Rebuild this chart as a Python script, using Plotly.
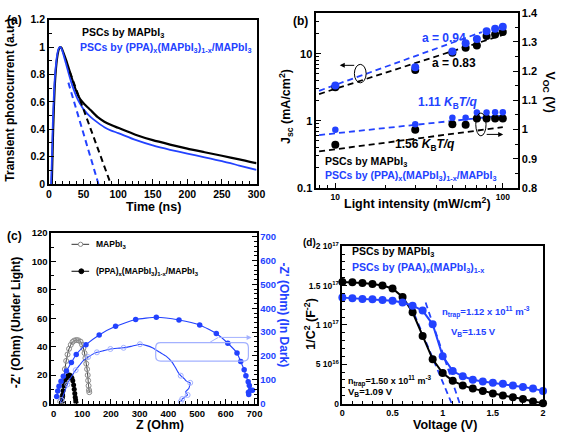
import plotly.graph_objects as go

W, H = 567, 440
BLUE = '#2342FF'
LBLUE = '#a3b1ff'

# ---------------- panel (a): transient photocurrent ----------------
t_black = [4, 5, 6, 8, 10, 12, 14, 16, 18, 20, 25, 30, 35, 40, 45, 50, 60, 70, 80, 90, 100,
           125, 150, 175, 200, 225, 250, 275, 300]
i_black = [0.0, 0.2, 0.4, 0.68, 0.84, 0.93, 0.98, 1.0, 0.995, 0.97, 0.9, 0.82, 0.74, 0.67, 0.62,
           0.59, 0.54, 0.49, 0.455, 0.43, 0.41, 0.36, 0.32, 0.288, 0.258, 0.232, 0.206, 0.18, 0.151]
t_blue = [3, 4, 5, 6, 8, 10, 12, 14, 16, 18, 20, 25, 30, 35, 40, 45, 50, 60, 70, 80, 90, 100,
          125, 150, 175, 200, 225, 250, 275, 300]
i_blue = [0.0, 0.15, 0.35, 0.52, 0.74, 0.87, 0.95, 0.99, 1.0, 0.99, 0.96, 0.87, 0.78, 0.70, 0.635,
          0.585, 0.545, 0.49, 0.45, 0.415, 0.39, 0.372, 0.322, 0.282, 0.25, 0.222, 0.195, 0.167,
          0.135, 0.103]
fit_a_black_t = [30, 89.3]
fit_a_black_i = [0.82, 0.0]
fit_a_blue_t = [28, 71.5]
fit_a_blue_i = [0.74, 0.0]

# ---------------- panel (b): light intensity dependence ----------------
light = [10, 30, 50, 60, 70, 80, 90, 100]
jsc_black = [3.15, 5.7, 10.3, 12.3, 13.2, 18.4, 19.3, 21.0]
jsc_blue = [3.35, 6.3, 10.8, 14.3, 16.5, 21.5, 23.6, 25.2]
voc_black = [0.948, 0.999, 1.018, 1.016, 1.038, 1.038, 1.038, 1.038]
voc_blue = [0.999, 1.018, 1.040, 1.040, 1.058, 1.058, 1.059, 1.059]
fit_jsc_black_x = [8, 100]
fit_jsc_black_y = [2.5, 19.0]
fit_jsc_blue_x = [8, 75]
fit_jsc_blue_y = [2.8, 21.0]
fit_voc_black_x = [8, 100]
fit_voc_black_y = [0.925, 1.008]
fit_voc_blue_x = [8, 100]
fit_voc_blue_y = [0.981, 1.048]

# ---------------- panel (c): Nyquist plots ----------------
z_light_mapi = [23, 30.6, 34, 39.5, 44, 48.7, 54, 60, 66, 72, 79.3, 86, 94, 99, 104, 108, 111,
                114, 116.8, 119, 120.5, 122, 123.5, 124.5]
zz_light_mapi = [1.5, 5, 12.8, 24.2, 30, 34.5, 38.5, 41.3, 43.3, 44.3, 44.7, 44.5, 43.6, 41.5,
                 39, 35.5, 32, 28, 24.2, 20, 16.2, 12.5, 9.5, 8]
z_light_ppa = [30, 30.6, 31.5, 33, 36, 40, 45, 50, 55, 60, 64, 67, 70, 72, 74, 75.5, 77, 78]
zz_light_ppa = [1, 4, 6, 9, 12.5, 15.5, 18, 19.5, 20, 19.5, 18, 16, 13, 10, 7, 4.5, 2.5, 1]
z_dark_mapi = [22, 28, 34, 40, 48, 57, 67, 77, 90, 102, 120, 151, 175, 198, 222, 244, 270, 301,
               325, 346, 370, 392, 414, 425, 434, 443, 455, 462, 470, 476, 471, 460, 467, 458,
               448, 443]
zz_dark_mapi = [2, 15, 35, 55, 80, 103, 122, 140, 160, 178, 195, 215, 222, 229, 232, 234, 240,
                249, 243, 233, 215, 199, 172, 150, 131, 117, 105, 95, 90, 87, 63, 49, 36, 28,
                19, 8]
z_dark_mapi_marks = [28, 48, 77, 120, 151, 198, 244, 301, 443, 476, 467, 448, 443]
zz_dark_mapi_marks = [15, 80, 140, 195, 215, 229, 234, 249, 117, 87, 36, 19, 8]
z_dark_ppa = [11, 14.6, 19, 26, 34, 45, 62, 79, 113, 159, 216, 286, 358, 437, 509, 567, 607,
              639, 652, 664, 670, 678, 682, 686, 693, 679, 680]
zz_dark_ppa = [30, 53, 73, 94, 115, 137, 172, 206, 247, 288, 324, 353, 362, 351, 330, 294, 253,
               212, 176, 142, 117, 92, 76, 57, 56, 47, 38]

# ---------------- panel (d): Mott-Schottky ----------------
volt = [0.0, 0.1, 0.2, 0.3, 0.4, 0.5, 0.6, 0.7, 0.8, 0.9, 1.0, 1.1, 1.2, 1.3, 1.4, 1.5, 1.6,
        1.7, 1.8, 1.9, 2.0]
ms_black = [1.545e17, 1.541e17, 1.533e17, 1.52e17, 1.50e17, 1.463e17, 1.355e17, 1.161e17,
            0.859e17, 0.562e17, 0.388e17, 0.289e17, 0.231e17, 0.19e17, 0.161e17, 0.128e17,
            0.103e17, 0.079e17, 0.058e17, 0.025e17, 0.004e17]
ms_blue = [1.347e17, 1.339e17, 1.330e17, 1.326e17, 1.318e17, 1.306e17, 1.285e17, 1.244e17,
           1.182e17, 1.008e17, 0.603e17, 0.413e17, 0.347e17, 0.302e17, 0.281e17, 0.264e17,
           0.252e17, 0.231e17, 0.211e17, 0.19e17, 0.161e17]
fit_d_black_v = [0.68, 1.09]
fit_d_black_y = [1.25e17, 0.0]
fit_d_blue_v = [0.83, 1.17]
fit_d_blue_y = [1.285e17, 0.0]
d_ticks = [0, 5e16, 1e17, 1.5e17, 2e17]
d_ticktext = ['0', '5 10<sup>16</sup>', '1 10<sup>17</sup>', '1.5 10<sup>17</sup>', '2 10<sup>17</sup>']


def fx(x):
    return x / W


def fy(y):
    return 1 - y / H


fig = go.Figure()

# panel a traces
fig.add_trace(go.Scatter(x=t_black, y=i_black, mode='lines', xaxis='x', yaxis='y',
                         line=dict(color='black', width=2.2, shape='spline', smoothing=0.6)))
fig.add_trace(go.Scatter(x=t_blue, y=i_blue, mode='lines', xaxis='x', yaxis='y',
                         line=dict(color=BLUE, width=1.8, shape='spline', smoothing=0.6)))
fig.add_trace(go.Scatter(x=fit_a_black_t, y=fit_a_black_i, mode='lines', xaxis='x', yaxis='y',
                         line=dict(color='black', width=2, dash='6px,4px')))
fig.add_trace(go.Scatter(x=fit_a_blue_t, y=fit_a_blue_i, mode='lines', xaxis='x', yaxis='y',
                         line=dict(color=BLUE, width=2, dash='6px,4px')))

# panel b traces
fig.add_trace(go.Scatter(x=fit_jsc_black_x, y=fit_jsc_black_y, mode='lines', xaxis='x2', yaxis='y2',
                         line=dict(color='black', width=1.8, dash='6px,4px')))
fig.add_trace(go.Scatter(x=fit_jsc_blue_x, y=fit_jsc_blue_y, mode='lines', xaxis='x2', yaxis='y2',
                         line=dict(color=BLUE, width=1.8, dash='6px,4px')))
fig.add_trace(go.Scatter(x=light, y=jsc_black, mode='markers', xaxis='x2', yaxis='y2',
                         marker=dict(color='black', size=8)))
fig.add_trace(go.Scatter(x=light, y=jsc_blue, mode='markers', xaxis='x2', yaxis='y2',
                         marker=dict(color=BLUE, size=8)))
fig.add_trace(go.Scatter(x=fit_voc_black_x, y=fit_voc_black_y, mode='lines', xaxis='x2', yaxis='y3',
                         line=dict(color='black', width=1.8, dash='6px,4px')))
fig.add_trace(go.Scatter(x=fit_voc_blue_x, y=fit_voc_blue_y, mode='lines', xaxis='x2', yaxis='y3',
                         line=dict(color=BLUE, width=1.8, dash='6px,4px')))
fig.add_trace(go.Scatter(x=light, y=voc_black, mode='markers', xaxis='x2', yaxis='y3',
                         marker=dict(color='black', size=8)))
fig.add_trace(go.Scatter(x=light, y=voc_blue, mode='markers', xaxis='x2', yaxis='y3',
                         marker=dict(color=BLUE, size=6.5)))

# panel c traces
fig.add_trace(go.Scatter(x=z_dark_mapi, y=zz_dark_mapi, mode='lines', xaxis='x3', yaxis='y5',
                         line=dict(color=BLUE, width=1.1, shape='spline', smoothing=0.4)))
fig.add_trace(go.Scatter(x=z_dark_mapi_marks, y=zz_dark_mapi_marks, mode='markers', xaxis='x3',
                         yaxis='y5',
                         marker=dict(symbol='circle-open', size=5, color=LBLUE, line=dict(width=1))))
fig.add_trace(go.Scatter(x=z_dark_ppa, y=zz_dark_ppa, mode='lines+markers', xaxis='x3', yaxis='y5',
                         line=dict(color=BLUE, width=1.1, shape='spline', smoothing=0.5),
                         marker=dict(symbol='circle', size=5.5, color=BLUE), cliponaxis=False))
fig.add_trace(go.Scatter(x=z_light_mapi, y=zz_light_mapi, mode='lines+markers', xaxis='x3', yaxis='y4',
                         line=dict(color='#333333', width=1, shape='spline', smoothing=0.5),
                         marker=dict(symbol='circle-open', size=5, color='#8a8a8a', line=dict(width=1))))
fig.add_trace(go.Scatter(x=z_light_ppa, y=zz_light_ppa, mode='lines+markers', xaxis='x3', yaxis='y4',
                         line=dict(color='black', width=1, shape='spline', smoothing=0.5),
                         marker=dict(symbol='circle', size=5, color='black')))

# panel d traces
fig.add_trace(go.Scatter(x=fit_d_black_v, y=fit_d_black_y, mode='lines', xaxis='x4', yaxis='y6',
                         line=dict(color=BLUE, width=1.8, dash='6px,4px')))
fig.add_trace(go.Scatter(x=fit_d_blue_v, y=fit_d_blue_y, mode='lines', xaxis='x4', yaxis='y6',
                         line=dict(color=BLUE, width=1.8, dash='6px,4px')))
fig.add_trace(go.Scatter(x=volt, y=ms_black, mode='lines+markers', xaxis='x4', yaxis='y6',
                         line=dict(color='black', width=2), marker=dict(color='black', size=8),
                         cliponaxis=False))
fig.add_trace(go.Scatter(x=volt, y=ms_blue, mode='lines+markers', xaxis='x4', yaxis='y6',
                         line=dict(color=BLUE, width=2), marker=dict(color=BLUE, size=8),
                         cliponaxis=False))


def axis_style(size, color='black'):
    return dict(showline=True, linecolor='black', linewidth=1.5, ticks='inside', ticklen=5,
                tickwidth=1.2, tickcolor='black', showgrid=False, zeroline=False,
                tickfont=dict(size=size, color=color))


def minor(**kw):
    d = dict(ticks='inside', ticklen=3, tickwidth=1, tickcolor='black', showgrid=False)
    d.update(kw)
    return d


fig.update_layout(
    width=W, height=H, margin=dict(l=0, r=0, t=0, b=0),
    paper_bgcolor='white', plot_bgcolor='rgba(0,0,0,0)', showlegend=False,
    font=dict(family='Liberation Sans, Arial, sans-serif', size=11, color='black', weight='bold'),
    xaxis=dict(domain=[fx(47), fx(259)], range=[0, 300], anchor='y', dtick=50, mirror=True,
               minor=minor(dtick=10), **axis_style(10.5)),
    yaxis=dict(domain=[fy(183), fy(14)], range=[0, 1.2], anchor='x', dtick=0.2, mirror=True,
               minor=minor(dtick=0.1), **axis_style(10.5)),
    xaxis2=dict(domain=[fx(320), fx(526)], type='log', range=[0.886, 2.09], anchor='y2',
                tickmode='array', tickvals=[10, 100], mirror=True,
                minor=minor(tickmode='array', tickvals=[8, 9, 20, 30, 40, 50, 60, 70, 80, 90]),
                **axis_style(8.5)),
    yaxis2=dict(domain=[fy(187), fy(7)], type='log', range=[-1, 1.609], anchor='x2',
                tickmode='array', tickvals=[0.1, 1, 10], mirror=False,
                minor=minor(tickmode='array', tickvals=[0.2, 0.3, 0.4, 0.5, 0.6, 0.7, 0.8, 0.9,
                                                         2, 3, 4, 5, 6, 7, 8, 9, 20, 30, 40]),
                **axis_style(11)),
    yaxis3=dict(overlaying='y2', side='right', anchor='x2', range=[0.8, 1.4], dtick=0.1,
                minor=minor(dtick=0.05), **axis_style(11)),
    xaxis3=dict(domain=[fx(49.3), fx(259)], range=[-8, 707], anchor='y4', dtick=100, mirror=True,
                tick0=0, minor=minor(dtick=20), **axis_style(9.5)),
    yaxis4=dict(domain=[fy(408.7), fy(233.3)], range=[0, 120], anchor='x3', dtick=20,
                minor=minor(dtick=10), **axis_style(9.5)),
    yaxis5=dict(overlaying='y4', side='right', anchor='x3', range=[0, 716], dtick=100,
                minor=minor(dtick=20), **axis_style(9.5, BLUE)),
    xaxis4=dict(domain=[fx(346.7), fx(551.7)], range=[0, 2], anchor='y6', tickmode='array',
                tickvals=[0, 0.5, 1, 1.5, 2], ticktext=['0', '0.5', '1', '1.5', '2'], mirror=True,
                minor=minor(dtick=0.1), **axis_style(9)),
    yaxis6=dict(domain=[fy(408.7), fy(247)], range=[0, 2e17], anchor='x4', tickmode='array',
                tickvals=d_ticks, ticktext=d_ticktext, mirror=True,
                minor=minor(dtick=1e16), **axis_style(8.5)),
)

ann = []


def text(x, y, s, size=11, color='black', xanchor='left', angle=0):
    ann.append(dict(x=fx(x), y=fy(y), xref='paper', yref='paper', text=s, showarrow=False,
                    xanchor=xanchor, yanchor='middle', textangle=angle,
                    font=dict(size=size, color=color, family='Liberation Sans, Arial, sans-serif',
                              weight='bold')))


# panel labels
text(2, 14, '(a)', 12)
text(294, 15, '(b)', 12)
text(2, 236, '(c)', 12)
text(304, 243, '(d)', 10)

# panel a texts
text(78.3, 27.3, 'PSCs by MAPbI<sub>3</sub>', 10.5)
text(76.7, 43.3, 'PSCs by (PPA)<sub>x</sub>(MAPbI<sub>3</sub>)<sub>1-x</sub>/MAPbI<sub>3</sub>', 10.5, BLUE)
text(153.3, 207, 'Time (ns)', 12.5, xanchor='center')
text(7.5, 97, 'Transient photocurrent (a.u.)', 12, xanchor='center', angle=-90)

# panel b texts
text(425.7, 33.3, 'a = 0.94', 12, BLUE)
text(436.7, 58.3, 'a = 0.83', 12)
text(421.7, 100, '1.11 <i>K</i><sub>B</sub><i>T/q</i>', 12, BLUE)
text(398.3, 143.3, '1.56 <i>K</i><sub>B</sub><i>T/q</i>', 12)
text(326.7, 160.5, 'PSCs by MAPbI<sub>3</sub>', 10.5)
text(326.7, 175, 'PSCs by (PPA)<sub>x</sub>(MAPbI<sub>3</sub>)<sub>1-x</sub>/MAPbI<sub>3</sub>', 10.5, BLUE)
text(423, 203, 'Light intensity (mW/cm<sup>2</sup>)', 12.5, xanchor='center')
text(289, 103, 'J<sub>sc</sub> (mA/cm<sup>2</sup>)', 12.5, xanchor='center', angle=-90)
text(558, 89, 'V<sub>OC</sub> (V)', 12.5, xanchor='center', angle=90)

# panel c texts
text(93.3, 245, 'MAPbI<sub>3</sub>', 8.5)
text(93.3, 272.7, '(PPA)<sub>x</sub>(MAPbI<sub>3</sub>)<sub>1-x</sub>/MAPbI<sub>3</sub>', 8.5)
text(160, 430.7, 'Z (Ohm)', 12.5, xanchor='center')
text(13.3, 325, "-Z' (Ohm) (Under Light)", 12, xanchor='center', angle=-90)
text(287, 318, "-Z' (Ohm) (In Dark)", 12, BLUE, xanchor='center', angle=90)

# panel d texts
text(355, 253.3, 'PSCs by MAPbI<sub>3</sub>', 10.5)
text(355, 269.3, 'PSCs by (PAA)<sub>x</sub>(MAPbI<sub>3</sub>)<sub>1-x</sub>', 10.5, BLUE)
text(446.7, 315, 'n<sub>trap</sub>=1.12 x 10<sup>11</sup> m<sup>-3</sup>', 9.5, BLUE)
text(456, 335, 'V<sub>B</sub>=1.15 V', 9.5, BLUE)
text(350, 385, 'n<sub>trap</sub>=1.50 x 10<sup>11</sup> m<sup>-3</sup>', 9)
text(350, 397, 'V<sub>B</sub>=1.09 V', 9.5)
text(451.7, 430.7, 'Voltage (V)', 12.5, xanchor='center')
text(313.3, 327, '1/C<sup>2</sup> (F<sup>-2</sup>)', 12.5, xanchor='center', angle=-90)


# arrows (tail offset given in pixels)
def arrow(x0, y0, x1, y1, color='black'):
    ann.append(dict(x=fx(x1), y=fy(y1), ax=x0 - x1, ay=y0 - y1, xref='paper', yref='paper',
                    axref='pixel', ayref='pixel', text='', showarrow=True, arrowhead=2,
                    arrowsize=1, arrowwidth=1, arrowcolor=color))


arrow(360, 61, 344, 61)
arrow(493, 132, 511, 132)
arrow(220, 340.7, 254, 340.7, LBLUE)

fig.update_layout(annotations=ann)

shapes = []
# ovals in panel b
shapes.append(dict(type='circle', xref='paper', yref='paper', x0=fx(359), x1=fx(371),
                   y0=fy(79), y1=fy(60), line=dict(color='black', width=1)))
shapes.append(dict(type='circle', xref='paper', yref='paper', x0=fx(483), x1=fx(493.5),
                   y0=fy(133.5), y1=fy(110), line=dict(color='black', width=1)))


# rounded rectangle in panel c
def rrect(x0, y0, x1, y1, r):
    X0, X1 = fx(x0), fx(x1)
    Y0, Y1 = fy(y0), fy(y1)
    rx, ry = r / W, r / H
    p = (f'M {X0 + rx} {Y0} L {X1 - rx} {Y0} Q {X1} {Y0} {X1} {Y0 - ry} '
         f'L {X1} {Y1 + ry} Q {X1} {Y1} {X1 - rx} {Y1} L {X0 + rx} {Y1} '
         f'Q {X0} {Y1} {X0} {Y1 + ry} L {X0} {Y0 - ry} Q {X0} {Y0} {X0 + rx} {Y0} Z')
    return dict(type='path', xref='paper', yref='paper', path=p, line=dict(color=LBLUE, width=1.2))


shapes.append(rrect(156, 346, 250.7, 365, 5))
shapes.append(dict(type='line', xref='paper', yref='paper', x0=fx(211.7), y0=fy(345.5),
                   x1=fx(220), y1=fy(340.7), line=dict(color=LBLUE, width=1)))

# legend samples in panel c
shapes.append(dict(type='line', xref='paper', yref='paper', x0=fx(70), x1=fx(88), y0=fy(245),
                   y1=fy(245), line=dict(color='#333333', width=1)))
shapes.append(dict(type='circle', xref='paper', yref='paper', x0=fx(77), x1=fx(81.5),
                   y0=fy(247.2), y1=fy(242.8), line=dict(color='#8a8a8a', width=1),
                   fillcolor='white'))
shapes.append(dict(type='line', xref='paper', yref='paper', x0=fx(70), x1=fx(88), y0=fy(272.7),
                   y1=fy(272.7), line=dict(color='black', width=1)))
shapes.append(dict(type='circle', xref='paper', yref='paper', x0=fx(77.5), x1=fx(82.5),
                   y0=fy(275.2), y1=fy(270.2), line=dict(color='black', width=1),
                   fillcolor='black'))
fig.update_layout(shapes=shapes)

fig.write_html('out.html', config={'displayModeBar': False},
               post_script="document.body.style.margin='0px';")
